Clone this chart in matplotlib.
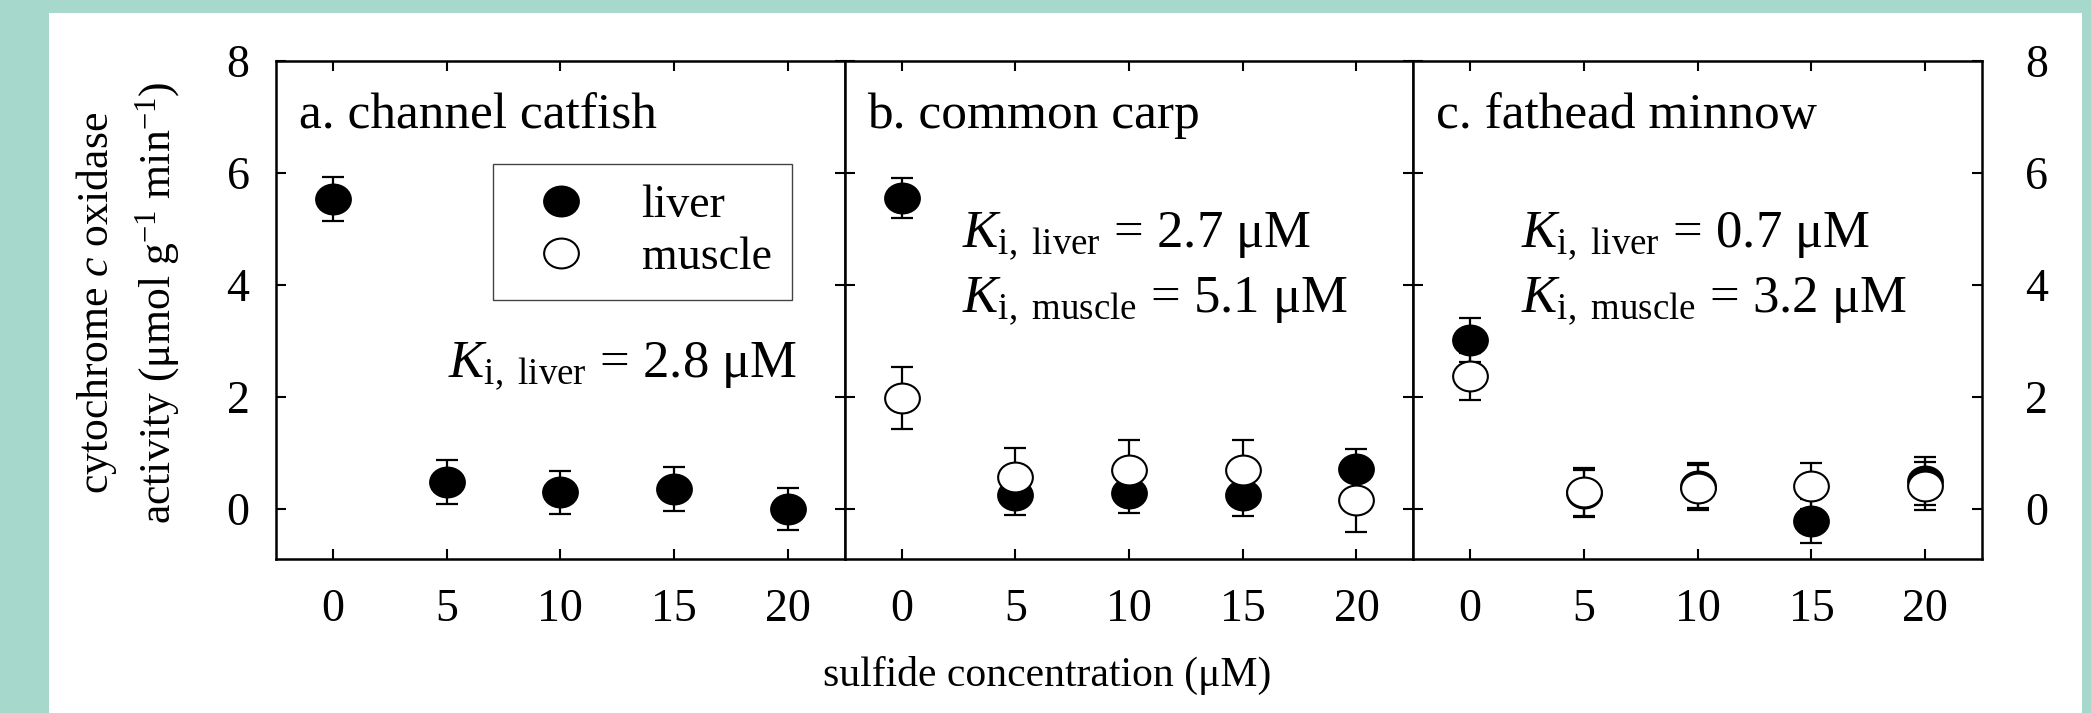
import matplotlib
matplotlib.use("Agg")
import matplotlib.pyplot as plt
from matplotlib.path import Path
from matplotlib.transforms import Affine2D
from matplotlib.patches import Rectangle
from matplotlib.lines import Line2D

plt.rcParams['font.family'] = ['Liberation Serif', 'DejaVu Serif']
plt.rcParams['mathtext.fontset'] = 'custom'
plt.rcParams['mathtext.rm'] = 'Liberation Serif'
plt.rcParams['mathtext.it'] = 'Liberation Serif:italic'

# ---------------- data ----------------
conc = [0, 5, 10, 15, 20]

catfish_liver = [5.54, 0.48, 0.30, 0.36, 0.00]
catfish_liver_se = [0.39, 0.39, 0.38, 0.39, 0.38]

carp_liver = [5.55, 0.25, 0.29, 0.25, 0.71]
carp_liver_se = [0.36, 0.36, 0.36, 0.37, 0.36]
carp_muscle = [1.98, 0.57, 0.70, 0.70, 0.16]
carp_muscle_se = [0.55, 0.52, 0.53, 0.53, 0.57]

minnow_liver = [3.02, 0.28, 0.42, -0.21, 0.50]
minnow_liver_se = [0.39, 0.42, 0.40, 0.40, 0.43]
minnow_muscle = [2.37, 0.30, 0.38, 0.41, 0.42]
minnow_muscle_se = [0.42, 0.43, 0.40, 0.41, 0.43]

panel_titles = ["a. channel catfish", "b. common carp", "c. fathead minnow"]
ki_texts = [
    [r"$K_{\mathrm{i,\ liver}}$ = 2.8 μM"],
    [r"$K_{\mathrm{i,\ liver}}$ = 2.7 μM", r"$K_{\mathrm{i,\ muscle}}$ = 5.1 μM"],
    [r"$K_{\mathrm{i,\ liver}}$ = 0.7 μM", r"$K_{\mathrm{i,\ muscle}}$ = 3.2 μM"],
]
yticks = [0, 2, 4, 6, 8]
xticks = [0, 5, 10, 15, 20]

# ---------------- figure ----------------
W, H = 2091, 713
fig = plt.figure(figsize=(W / 100, H / 100), dpi=100)
fig.patch.set_facecolor('#a6d9cc')
bg = Rectangle((49 / W, 0), (2082 - 49) / W, (H - 13) / H,
               transform=fig.transFigure, facecolor='white',
               edgecolor='none', zorder=-10)
fig.add_artist(bg)

left_px, right_px = 276, 1982
top_px, bot_px = 61, 559
pw = (right_px - left_px) / 3
axes = []
for i in range(3):
    ax = fig.add_axes([(left_px + i * pw) / W, (H - bot_px) / H,
                       pw / W, (bot_px - top_px) / H])
    ax.set_zorder(1)
    axes.append(ax)

ell = Path.unit_circle().transformed(Affine2D().scale(1.0, 0.86))
ms = 25
lw_eb = 1.6
cap = 7.8

def plot_series(ax, y, se, filled, z):
    ax.errorbar(conc, y, yerr=se, fmt='none', ecolor='black',
                elinewidth=lw_eb, capsize=cap, capthick=lw_eb, zorder=z)
    ax.plot(conc, y, linestyle='none', marker=ell, markersize=ms,
            markerfacecolor='black' if filled else 'white',
            markeredgecolor='black', markeredgewidth=1.5, zorder=z + 0.5)

plot_series(axes[0], catfish_liver, catfish_liver_se, True, 3)
plot_series(axes[1], carp_liver, carp_liver_se, True, 3)
plot_series(axes[1], carp_muscle, carp_muscle_se, False, 4)
plot_series(axes[2], minnow_liver, minnow_liver_se, True, 3)
plot_series(axes[2], minnow_muscle, minnow_muscle_se, False, 4)

for i, ax in enumerate(axes):
    ax.set_xlim(-2.5, 22.5)
    ax.set_ylim(-0.89, 8)
    ax.set_xticks(xticks)
    ax.set_yticks(yticks)
    for s in ax.spines.values():
        s.set_linewidth(1.8)
    ax.tick_params(axis='both', direction='in', length=7, width=1.5,
                   top=True, right=True, labelsize=33)
    ax.tick_params(axis='x', pad=21)
    ax.tick_params(axis='y', labelleft=(i == 0), labelright=(i == 2))
    if i == 0:
        ax.tick_params(axis='y', pad=19)
    if i == 2:
        ax.tick_params(axis='y', pad=31)
    ax.text(0.04, 0.865, panel_titles[i], transform=ax.transAxes,
            fontsize=37, ha='left', va='baseline')

axes[0].text(0.303, 0.365, ki_texts[0][0], transform=axes[0].transAxes,
             fontsize=38, ha='left', va='baseline')
for i, x0 in [(1, 0.206), (2, 0.19)]:
    axes[i].text(x0, 0.627, ki_texts[i][0], transform=axes[i].transAxes,
                 fontsize=38, ha='left', va='baseline')
    axes[i].text(x0, 0.496, ki_texts[i][1], transform=axes[i].transAxes,
                 fontsize=38, ha='left', va='baseline')

handles = [Line2D([], [], linestyle='none', marker=ell, markersize=ms,
                  markerfacecolor='black', markeredgecolor='black', markeredgewidth=1.5),
           Line2D([], [], linestyle='none', marker=ell, markersize=ms,
                  markerfacecolor='white', markeredgecolor='black', markeredgewidth=1.5)]
leg = axes[0].legend(handles, ['liver', 'muscle'], loc='upper left',
                     bbox_to_anchor=(0.381, 0.793), borderaxespad=0,
                     fancybox=False, framealpha=1, edgecolor='#444444',
                     fontsize=33, handlelength=2.1, handletextpad=0.7,
                     borderpad=0.45, labelspacing=0.2)
leg.get_frame().set_linewidth(1.0)

fig.text(97 / W, (H - 303) / H, 'cytochrome $c$ oxidase', rotation=90,
         fontsize=31.5, ha='center', va='center')
fig.text(158 / W, (H - 303) / H, 'activity (μmol g$^{-1}$ min$^{-1}$)', rotation=90,
         fontsize=31.5, ha='center', va='center')
fig.text(1047 / W, (H - 686) / H, 'sulfide concentration (μM)',
         fontsize=30, ha='center', va='baseline')

fig.savefig('out.png', dpi=100, facecolor=fig.get_facecolor())
